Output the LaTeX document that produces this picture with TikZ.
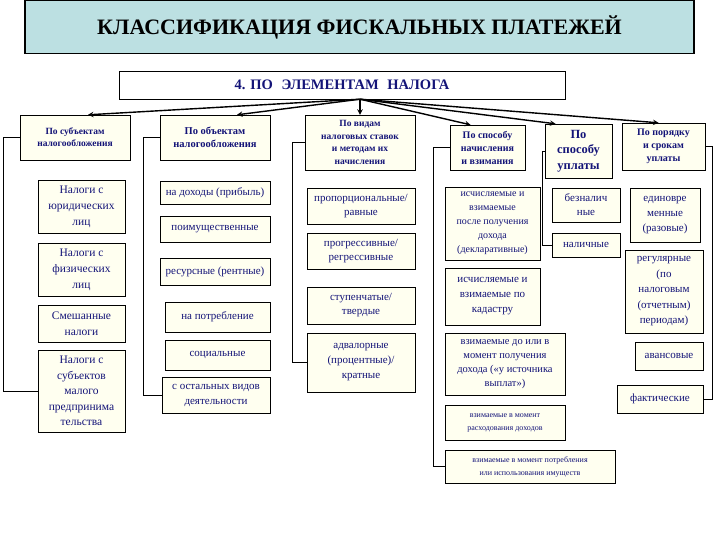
\documentclass[tikz,border=0pt]{standalone}
\usepackage{fontspec}
\setmainfont{Liberation Serif}
\usetikzlibrary{shapes,arrows,positioning}
\definecolor{navy}{RGB}{20,20,120}
\definecolor{titlefill}{RGB}{188,224,226}
\definecolor{cream}{RGB}{255,255,240}

\begin{document}
\begin{tikzpicture}[x=1pt, y=-1pt,
    cat/.style={rectangle, draw, thin, fill=cream, text=navy, align=center, inner sep=1pt,
        font=\fontsize{9.5}{12}\selectfont\bfseries},
    item/.style={rectangle, draw, thin, fill=cream, text=navy, align=center, inner sep=1pt,
        font=\fontsize{11}{14}\selectfont},
    tiny/.style={item, font=\fontsize{8}{13}\selectfont},
    link/.style={thin},
    arrow/.style={->, >=stealth, line width=1.4pt}]

    \useasboundingbox (0,0) rectangle (720,540);

    \node[draw, very thick, fill=titlefill, minimum width=669, minimum height=53,
        font=\fontsize{22}{26}\selectfont\bfseries] (title) at (359.5,27) {КЛАССИФИКАЦИЯ ФИСКАЛЬНЫХ ПЛАТЕЖЕЙ};
    \node[draw, thin, fill=white, minimum width=446, minimum height=28, text=navy,
        font=\fontsize{14.5}{16}\selectfont\bfseries] (elem) at (342,85) {4. ПО\hspace{0.6em}ЭЛЕМЕНТАМ\hspace{0.6em}НАЛОГА};
    \coordinate (hub) at ([xshift=18pt]elem.south);

    % categories
    \node[cat, minimum width=110, minimum height=45] (subj) at (75,137.5) {По субъектам\\ налогообложения};
    \node[cat, minimum width=110, minimum height=45, font=\fontsize{10.5}{13}\selectfont\bfseries] (obj) at (215,137.5) {По объектам\\ налогообложения};
    \node[cat, minimum width=110, minimum height=55, font=\fontsize{9.5}{12.5}\selectfont\bfseries] (rate) at (360,142.5) {По видам\\ налоговых ставок\\ и методам их\\ начисления};
    \node[cat, minimum width=75, minimum height=45, font=\fontsize{10}{13}\selectfont\bfseries] (calc) at (487.5,147.5) {По способу\\ начисления\\ и взимания};
    \node[cat, minimum width=67, minimum height=54, font=\fontsize{12.5}{15.5}\selectfont\bfseries] (pay) at (578.5,151) {По\\ способу\\ уплаты};
    \node[cat, minimum width=83, minimum height=47, font=\fontsize{10}{13}\selectfont\bfseries] (term) at (663.5,146.5) {По порядку\\ и срокам\\ уплаты};

    \draw[arrow] (hub) -- ([xshift=13pt]subj.north);
    \draw[arrow] (hub) -- ([xshift=22pt]obj.north);
    \draw[arrow] (hub) -- (rate.north);
    \draw[arrow] (hub) -- ([xshift=-17pt]calc.north);
    \draw[arrow] (hub) -- ([xshift=-23pt]pay.north);
    \draw[arrow] (hub) -- ([xshift=-5pt]term.north);

    % by subjects
    \node[item, minimum width=87, minimum height=53, font=\fontsize{11.5}{16}\selectfont] (jur) at (81.5,206.5) {Налоги с\\ юридических\\ лиц};
    \node[item, minimum width=87, minimum height=53, font=\fontsize{11.5}{16}\selectfont] (fiz) at (81.5,269.5) {Налоги с\\ физических\\ лиц};
    \node[item, minimum width=87, minimum height=37, font=\fontsize{11.5}{16}\selectfont] (mix) at (81.5,323.5) {Смешанные\\ налоги};
    \node[item, minimum width=87, minimum height=82, font=\fontsize{11.5}{15.5}\selectfont] (small) at (81.5,391) {Налоги с\\ субъектов\\ малого\\ предпринима\\ тельства};
    \draw[link] (subj.west) -- ++(-17,0) |- (small.west);

    % by objects
    \node[item, minimum width=110, minimum height=23] (inc) at (215,192.5) {на доходы (прибыль)};
    \node[item, minimum width=110, minimum height=26] (prop) at (215,229) {поимущественные};
    \node[item, minimum width=110, minimum height=27] (res) at (215,271.5) {ресурсные (рентные)};
    \node[item, minimum width=105, minimum height=30] (cons) at (217.5,317) {на потребление};
    \node[item, minimum width=105, minimum height=30] (soc) at (217.5,355) {социальные};
    \node[item, minimum width=108, minimum height=36, font=\fontsize{11}{15}\selectfont] (oth) at (216,395) {с остальных видов\\ деятельности};
    \draw[link] (obj.west) -- ++(-17,0) |- (oth.west);

    % by rates
    \node[item, minimum width=108, minimum height=36] (ratio) at (361,206) {пропорциональные/\\ равные};
    \node[item, minimum width=108, minimum height=36] (progr) at (361,251) {прогрессивные/\\ регрессивные};
    \node[item, minimum width=108, minimum height=37] (steps) at (361,305.5) {ступенчатые/\\ твердые};
    \node[item, minimum width=108, minimum height=59, font=\fontsize{11}{15}\selectfont] (adval) at (361,362.5) {адвалорные\\ (процентные)/\\ кратные};
    \draw[link] (rate.west) -- ++(-13,0) |- (adval.west);

    % by way of assessment
    \node[item, minimum width=95, minimum height=73, font=\fontsize{10}{14}\selectfont] (decl) at (492.5,223.5) {исчисляемые и\\ взимаемые\\ после получения\\ дохода\\ (декларативные)};
    \node[item, minimum width=95, minimum height=57, font=\fontsize{11}{15}\selectfont] (cad) at (492.5,296.5) {исчисляемые и\\ взимаемые по\\ кадастру};
    \node[item, minimum width=120, minimum height=62, font=\fontsize{10.5}{14}\selectfont] (src) at (505,364) {взимаемые до или в\\ момент получения\\ дохода («у источника\\ выплат»)};
    \node[tiny, minimum width=120, minimum height=35] (spend) at (505,422.5) {взимаемые в момент\\ расходования доходов};
    \node[tiny, minimum width=170, minimum height=33] (use) at (530,466.5) {взимаемые в момент потребления\\ или использования имуществ};
    \draw[link] (calc.west) -- ++(-17,0) |- (use.west);

    % by way of payment
    \node[item, minimum width=68, minimum height=34] (cashless) at (586,205) {безналич\\ ные};
    \node[item, minimum width=68, minimum height=24] (cash) at (586,245) {наличные};
    \draw[link] (pay.west) -- ++(-3,0) |- (cash.west);

    % by terms
    \node[item, minimum width=70, minimum height=54, font=\fontsize{11}{15}\selectfont] (once) at (665,215) {единовре\\ менные\\ (разовые)};
    \node[item, minimum width=78, minimum height=83, font=\fontsize{11}{15.5}\selectfont] (reg) at (664,291.5) {регулярные\\ (по\\ налоговым\\ (отчетным)\\ периодам)};
    \node[item, minimum width=68, minimum height=28] (adv) at (669,356) {авансовые};
    \node[item, minimum width=86, minimum height=28] (fact) at (660,399) {фактические};
    \draw[link] (term.east) -- ++(7,0) |- (fact.east);

\end{tikzpicture}
\end{document}
